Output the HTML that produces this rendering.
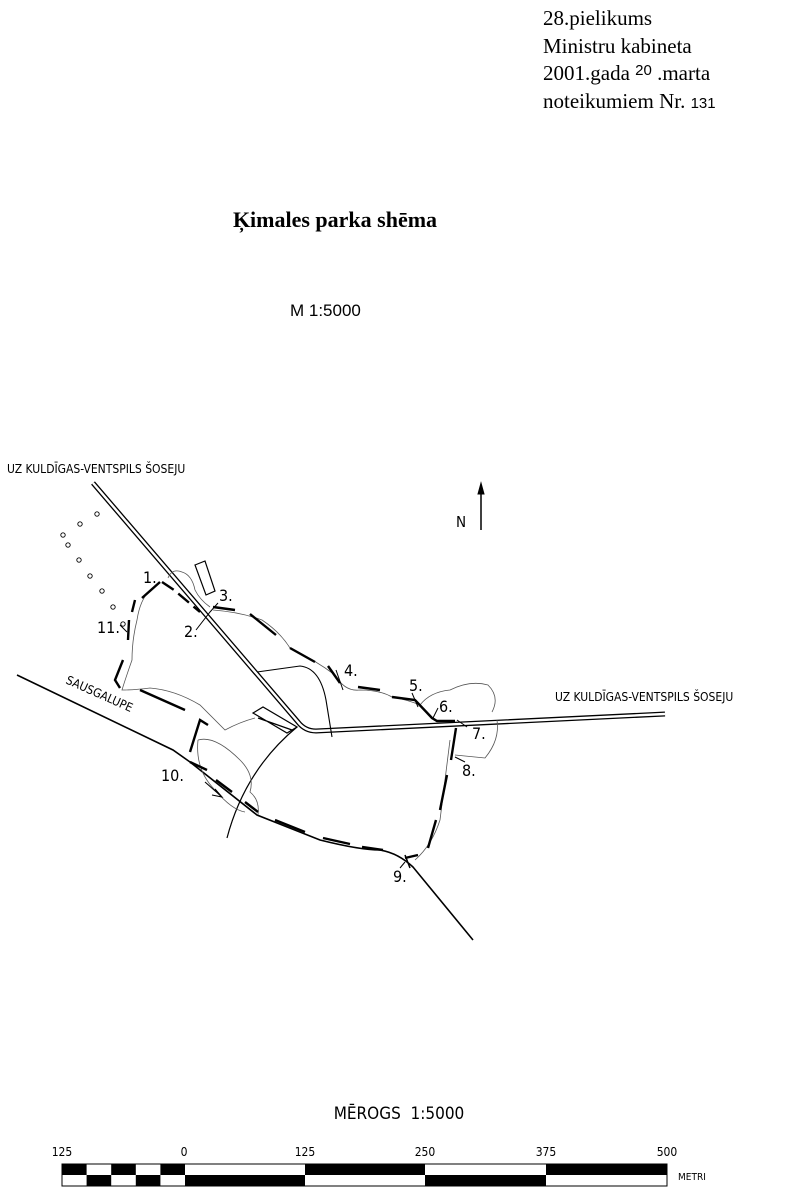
<!DOCTYPE html>
<html><head><meta charset="utf-8"><style>
html,body{margin:0;padding:0;background:#fff}
svg{display:block}
.s{font-family:"DejaVu Sans Condensed","Liberation Sans",sans-serif}
.r{font-family:"Liberation Serif",serif}
</style></head><body>
<svg width="800" height="1196" viewBox="0 0 800 1196" xmlns="http://www.w3.org/2000/svg">
<g class="r" font-size="21" fill="#000">
<text x="543" y="25">28.pielikums</text>
<text x="543" y="53">Ministru kabineta</text>
<text x="543" y="80">2001.gada <tspan font-size="15" dy="-5" font-family="Liberation Sans">20</tspan><tspan dy="5"> .marta</tspan></text>
<text x="543" y="108">noteikumiem Nr. <tspan font-size="15" font-family="Liberation Sans">131</tspan></text>
</g>
<text x="335" y="227" class="r" font-size="22" font-weight="bold" text-anchor="middle">Ķimales parka shēma</text>
<text x="290" y="316" font-family="Liberation Sans" font-size="17">M 1:5000</text>

<text x="7" y="473" class="s" font-size="12">UZ KULDĪGAS-VENTSPILS ŠOSEJU</text>
<text x="555" y="701" class="s" font-size="12">UZ KULDĪGAS-VENTSPILS ŠOSEJU</text>
<text x="456" y="527" class="s" font-size="15">N</text>
<line x1="481" y1="530" x2="481" y2="490" stroke="#000" stroke-width="1.5"/>
<path d="M478 494 L481 483 L484 494 Z" fill="#000" stroke="#000" stroke-width="1"/>

<g fill="none" stroke="#000">
<path d="M93 483 L298 722 Q305 731 316 731 L665 714" stroke-width="5"/>
<path d="M93 483 L298 722 Q305 731 316 731 L665 714" stroke="#fff" stroke-width="2.4"/>
<path d="M17 675 L173 750 L190 762 L257 815 L320 840 Q360 850 380 850 Q398 853 413 867 L473 940" stroke-width="1.6"/>
<path d="M227 838 Q245 770 297 727" stroke-width="1.2"/>
<path d="M257 672 L300 666 Q320 668 326 700 L332 737" stroke-width="1.1"/>
<path d="M195 565 L205 561 L215 591 L206 595 Z" stroke-width="1.2"/>
<path d="M253 713 L263 707 L297 727 L287 733 Z M258 718 L292 730" stroke-width="1.2"/>
<g stroke="#555" stroke-width="0.8">
<path d="M168 578 Q172 568 182 572 Q192 575 195 590 Q200 600 210 607"/>
<path d="M150 590 Q140 600 137 620 Q132 640 132 660 Q125 680 122 690 Q135 690 150 688 Q175 690 200 705 Q215 720 225 730 Q240 722 255 718"/>
<path d="M213 610 Q240 612 262 620 Q280 632 290 648 Q315 660 335 675 Q345 692 360 690 Q380 690 392 697 Q408 700 420 705 Q430 692 450 690 Q470 680 488 685 Q500 697 492 712"/>
<path d="M497 720 Q500 740 485 758 L455 755"/>
<path d="M450 740 Q445 780 440 820 Q432 845 415 860"/>
<path d="M198 740 Q215 735 240 760 Q255 775 250 792 Q260 800 258 815"/>
<path d="M198 740 Q195 770 215 790 Q232 810 245 812"/>
</g>
<g stroke-width="2.4">
<path d="M162 582 L174 590 L200 612" stroke-dasharray="14 6"/>
<path d="M213 607 L235 610 M250 614 L276 635 M290 648 L315 662 M328 666 L340 683 M358 687 L380 690 M392 697 L415 700 L432 718 L437 721 L455 721" />
<path d="M456 728 L451 760 M447 775 L440 810 M436 820 L428 848 M418 855 L405 858"/>
<path d="M383 850 L362 847 M350 844 L323 838 M305 832 L275 820 M258 812 L245 802 M232 792 L216 780 M207 770 L190 762"/>
<path d="M190 752 L200 720 L208 725"/>
<path d="M185 710 L140 690 M120 688 L115 680 L123 660 M128 640 L129 620 M132 612 L135 600 M142 598 L160 582"/>
</g>
<line x1="405" y1="855" x2="410" y2="868" stroke-width="1.5"/>
<path d="M205 782 L222 797 M215 789 L222 797 L212 795" stroke-width="1.1"/>
<g stroke-width="0.9">
<circle cx="97" cy="514" r="2.2"/><circle cx="80" cy="524" r="2.2"/><circle cx="63" cy="535" r="2.2"/>
<circle cx="68" cy="545" r="2.2"/><circle cx="79" cy="560" r="2.2"/><circle cx="90" cy="576" r="2.2"/>
<circle cx="102" cy="591" r="2.2"/><circle cx="113" cy="607" r="2.2"/><circle cx="123" cy="624" r="2.2"/>
</g>
<path d="M196 630 L210 612 L218 603 M336 670 L343 690 M412 693 L418 707 M433 718 L438 708 M457 720 L467 727 M455 757 L465 762 M405 862 L400 868 M120 625 L127 632" stroke-width="1"/>
</g>
<g class="s" font-size="16" fill="#000">
<text x="143" y="583">1.</text><text x="184" y="637">2.</text><text x="219" y="601">3.</text>
<text x="344" y="676">4.</text><text x="409" y="691">5.</text><text x="439" y="712">6.</text>
<text x="472" y="739">7.</text><text x="462" y="776">8.</text><text x="393" y="882">9.</text>
<text x="161" y="781">10.</text><text x="97" y="633">11.</text>
<text x="0" y="0" font-size="12" transform="translate(65 683) rotate(24)">SAUSGALUPE</text>
</g>

<text x="399" y="1119" class="s" font-size="17" text-anchor="middle">MĒROGS&#160;&#160;1:5000</text>
<g class="s" font-size="12" text-anchor="middle">
<text x="62" y="1156">125</text><text x="184" y="1156">0</text><text x="305" y="1156">125</text>
<text x="425" y="1156">250</text><text x="546" y="1156">375</text><text x="667" y="1156">500</text>
</g>
<text x="678" y="1180" class="s" font-size="10">METRI</text>
<g>
<rect x="62" y="1164" width="605" height="22" fill="#fff" stroke="#000" stroke-width="1"/>
<rect x="62" y="1164" width="24.6" height="11" fill="#000"/>
<rect x="111.2" y="1164" width="24.6" height="11" fill="#000"/>
<rect x="160.4" y="1164" width="24.6" height="11" fill="#000"/>
<rect x="86.6" y="1175" width="24.6" height="11" fill="#000"/>
<rect x="135.8" y="1175" width="24.6" height="11" fill="#000"/>
<rect x="185" y="1175" width="120" height="11" fill="#000"/>
<rect x="305" y="1164" width="120" height="11" fill="#000"/>
<rect x="425" y="1175" width="121" height="11" fill="#000"/>
<rect x="546" y="1164" width="121" height="11" fill="#000"/>
</g>
</svg>
</body></html>
